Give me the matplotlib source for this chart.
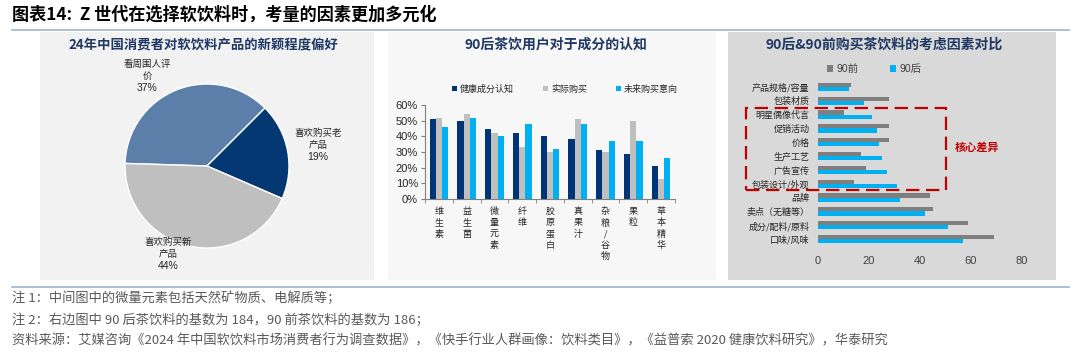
import matplotlib
matplotlib.use("Agg")
import matplotlib.pyplot as plt
import numpy as np
from matplotlib.patches import Rectangle

plt.rcParams['font.family'] = ['Noto Sans CJK SC', 'DejaVu Sans']

W, H = 1080, 354

# ---- data ----
pie_labels = ['看周围人评\n价', '喜欢购买老\n产品', '喜欢购买新\n产品']
pie_values = [37, 19, 44]
pie_colors = ['#5b7fa8', '#033873', '#bfbfbf']

ingredients = ['维生素', '益生菌', '微量元素', '纤维', '胶原蛋白', '真果汁', '杂粮/谷物', '果粒', '草本精华']
cognition = [51, 50, 45, 42, 40, 38, 31, 29, 21]
bought = [52, 54, 42, 33, 30, 51, 30, 50, 13]
intent = [46, 52, 40, 48, 32, 48, 37, 37, 26]
series_names = ['健康成分认知', '实际购买', '未来购买意向']
series_colors = ['#003478', '#bfbfbf', '#00b0f0']

factors = ['产品规格/容量', '包装材质', '明星偶像代言', '促销活动', '价格', '生产工艺',
           '广告宣传', '包装设计/外观', '品牌', '卖点（无糖等）', '成分/配料/原料', '口味/风味']
pre90 = [13, 28, 10, 28, 28, 17, 19, 14, 44, 45, 59, 69]
post90 = [12, 18, 21, 23, 24, 25, 27, 31, 32, 42, 51, 57]


def box(x0, y0, x1, y1):
    # pixel box (from top-left) -> figure rect
    return [x0 / W, 1 - y1 / H, (x1 - x0) / W, (y1 - y0) / H]


fig = plt.figure(figsize=(W / 100, H / 100), dpi=100)
fig.patch.set_facecolor('white')

# panel backgrounds
for (x0, x1, c) in [(40, 374, '#f2f2f2'), (388, 716, '#f7f7f7'), (728, 1056, '#d9d9d9')]:
    fig.patches.append(Rectangle((x0 / W, 1 - 280 / H), (x1 - x0) / W, (280 - 32) / H,
                                 transform=fig.transFigure, facecolor=c, edgecolor='none', zorder=-5))

# header / footer lines
for yy in [30, 287]:
    fig.add_artist(plt.Line2D([12 / W, 1069 / W], [1 - yy / H, 1 - yy / H], color='#9fb4cc', lw=1.2))

fig.text(12 / W, 1 - 15 / H, '图表14:  Z 世代在选择软饮料时，考量的因素更加多元化',
         fontsize=12.3, fontweight='bold', color='black', va='center', ha='left')

navy = '#1f3864'
fig.text(203 / W, 1 - 45 / H, '24年中国消费者对软饮料产品的新颖程度偏好', fontsize=9.6,
         fontweight='bold', color=navy, ha='center', va='center')
fig.text(556 / W, 1 - 45 / H, '90后茶饮用户对于成分的认知', fontsize=10,
         fontweight='bold', color=navy, ha='center', va='center')
fig.text(884 / W, 1 - 45 / H, '90后&90前购买茶饮料的考虑因素对比', fontsize=10,
         fontweight='bold', color=navy, ha='center', va='center')

# ---- pie ----
axp = fig.add_axes(box(125, 84, 289, 248))
axp.pie(pie_values, colors=pie_colors, startangle=178.2, counterclock=False,
        wedgeprops=dict(edgecolor='white', linewidth=1))
axp.set_xlim(-1, 1)
axp.set_ylim(-1, 1)
axp.set_aspect('equal')
axp.axis('off')
label_pos = [(147, 70), (318, 139), (168, 248)]
for lab, v, (px, py) in zip(pie_labels, pie_values, label_pos):
    fig.text(px / W, 1 - py / H, lab, fontsize=6.8, color='#262626', ha='center', va='center',
             linespacing=1.35)
    nl = lab.count('\n') + 1
    fig.text(px / W, 1 - (py + 6 * nl + 6) / H, f'{v}%', fontsize=7.5, color='#262626',
             ha='center', va='center', family='Liberation Sans')

# ---- middle grouped bars ----
axm = fig.add_axes(box(425, 105, 675, 199))
axm.set_facecolor('none')
x = np.arange(len(ingredients))
bw = 0.224
for i, (vals, c, n) in enumerate(zip([cognition, bought, intent], series_colors, series_names)):
    axm.bar(x + (i - 1) * bw, vals, width=bw, color=c, label=n)
axm.set_xlim(-0.5, len(ingredients) - 0.5)
axm.set_ylim(0, 60)
axm.set_yticks(range(0, 61, 10))
axm.set_yticklabels([f'{v}%' for v in range(0, 61, 10)], family='Liberation Sans', fontsize=8,
                    color='#262626')
axm.set_xticks(x)
axm.set_xticklabels(['\n'.join(s) for s in ingredients], fontsize=6.5, color='#262626',
                    linespacing=1.3)
axm.set_xticks(np.arange(-0.5, len(ingredients), 1), minor=True)
axm.tick_params(axis='x', which='major', length=0, pad=6)
axm.tick_params(axis='x', which='minor', length=3, color='#808080')
axm.tick_params(axis='y', length=3, color='#808080', pad=2)
for s in ['top', 'right']:
    axm.spines[s].set_visible(False)
for s in ['left', 'bottom']:
    axm.spines[s].set_color('#808080')
    axm.spines[s].set_linewidth(0.8)
h, l = axm.get_legend_handles_labels()
fig.legend(h, l, loc='center', bbox_to_anchor=(565 / W, 1 - 89 / H), ncol=3, frameon=False,
           fontsize=6.5, handlelength=0.6, handleheight=0.6, handletextpad=0.3,
           columnspacing=3.2, labelcolor='#262626')

# ---- right horizontal bars ----
axr = fig.add_axes(box(818, 80, 1022, 246))
axr.set_facecolor('none')
y = np.arange(len(factors))
bh = 0.3
axr.barh(y - bh / 2, pre90, height=bh, color='#7f7f7f', label='90前')
axr.barh(y + bh / 2, post90, height=bh, color='#00b0f0', label='90后')
axr.set_ylim(len(factors) - 0.5, -0.5)
axr.set_xlim(0, 80)
axr.set_xticks(range(0, 81, 20))
axr.set_xticklabels([str(v) for v in range(0, 81, 20)], family='Liberation Sans', fontsize=8,
                    color='#404040')
axr.set_yticks(y)
axr.set_yticklabels(factors, fontsize=6.5, color='#262626')
axr.tick_params(axis='y', length=0, pad=6)
axr.tick_params(axis='x', length=0, pad=7)
for s in axr.spines.values():
    s.set_visible(False)
h, l = axr.get_legend_handles_labels()
leg = fig.legend(h, l, loc='center', bbox_to_anchor=(874 / W, 1 - 69 / H), ncol=2, frameon=False,
                 fontsize=7.5, handlelength=0.6, handleheight=0.6, handletextpad=0.3,
                 columnspacing=3.0, labelcolor='#404040')
for t in leg.get_texts():
    t.set_family(['Liberation Sans', 'Noto Sans CJK SC'])

# highlight box
fig.patches.append(Rectangle((746 / W, 1 - 190 / H), 200 / W, 82 / H, transform=fig.transFigure,
                             facecolor='none', edgecolor='#c00000', lw=1.6,
                             linestyle=(0, (6, 3)), zorder=5))
fig.text(977 / W, 1 - 147 / H, '核心差异', fontsize=8, fontweight='bold', color='#c00000',
         ha='center', va='center')

# ---- notes ----
notes = ['注 1：中间图中的微量元素包括天然矿物质、电解质等；',
         '注 2：右边图中 90 后茶饮料的基数为 184，90 前茶饮料的基数为 186；',
         '资料来源：艾媒咨询《2024 年中国软饮料市场消费者行为调查数据》，《快手行业人群画像：饮料类目》，《益普索 2020 健康饮料研究》，华泰研究']
for n, yy in zip(notes, [298, 320, 341]):
    fig.text(12 / W, 1 - yy / H, n, fontsize=9.5, color='#595959', ha='left', va='center')

fig.savefig('out.png', dpi=100)
